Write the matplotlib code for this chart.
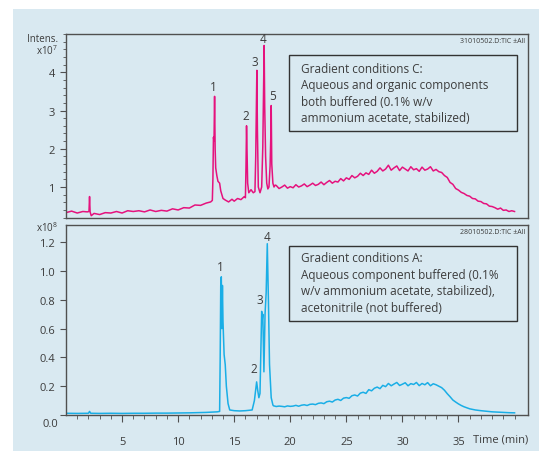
import matplotlib
matplotlib.use("Agg")
import matplotlib.pyplot as plt
from matplotlib.patches import Rectangle
from matplotlib.ticker import MultipleLocator, FixedLocator

plt.rcParams["font.family"] = ["Open Sans", "DejaVu Sans"]
plt.rcParams["mathtext.default"] = "regular"

# Gradient conditions C (x10^7)
time_c = [0.0, 0.5, 1.0, 1.5, 1.9, 2.05, 2.1, 2.15, 2.25, 2.5, 3.0, 3.5, 4.0, 4.5,
          5.0, 5.5, 6.0, 6.5, 7.0, 7.5, 8.0, 8.5, 9.0, 9.5, 10.0, 10.5, 11.0, 11.5,
          12.0, 12.5, 12.9, 13.05,
          13.1, 13.15, 13.2, 13.25, 13.3, 13.35, 13.45, 13.55, 13.7, 13.8, 14.0,
          14.2, 14.5, 14.8, 15.0, 15.3, 15.6, 15.9, 16.0,
          16.05, 16.1, 16.15, 16.2, 16.3, 16.5, 16.7, 16.85,
          16.92, 16.97, 17.02, 17.07, 17.15, 17.3,
          17.45, 17.55, 17.62, 17.67, 17.72, 17.8, 17.9, 18.0,
          18.1, 18.2, 18.27, 18.3, 18.35, 18.45, 18.55, 18.65,
          18.75, 19.0, 19.25, 19.5, 19.75, 20.0, 20.25, 20.5, 20.75, 21.0, 21.25,
          21.5, 21.75, 22.0, 22.25, 22.5, 22.75, 23.0, 23.25, 23.5, 23.75, 24.0,
          24.25, 24.5, 24.75, 25.0, 25.25, 25.5, 25.75, 26.0, 26.25, 26.5, 26.75,
          27.0, 27.25, 27.5, 27.75, 28.0, 28.25, 28.5, 28.75, 29.0, 29.25, 29.5,
          29.75, 30.0, 30.25, 30.5, 30.75, 31.0, 31.25, 31.5, 31.75, 32.0, 32.25,
          32.5, 32.75, 33.0, 33.25, 33.5, 33.75, 34.0, 34.25, 34.5, 34.75, 35.0,
          35.25, 35.5, 35.75, 36.0, 36.25, 36.5, 36.75, 37.0, 37.25, 37.5, 37.75,
          38.0, 38.25, 38.5, 38.75, 39.0, 39.25, 39.5, 39.75, 40.0]
intens_c = [0.33, 0.37, 0.32, 0.36, 0.35, 0.36, 0.75, 0.35, 0.25, 0.31, 0.28, 0.33, 0.32, 0.36,
            0.32, 0.38, 0.36, 0.38, 0.35, 0.4, 0.36, 0.39, 0.37, 0.43, 0.4, 0.46, 0.45, 0.53,
            0.52, 0.58, 0.61, 0.65,
            1.2, 2.3, 2.2, 3.37, 2.0, 1.5, 1.3, 1.15, 1.1, 0.9, 0.7,
            0.66, 0.61, 0.68, 0.63, 0.7, 0.67, 0.75, 0.72,
            1.5, 2.6, 1.8, 1.1, 0.85, 0.93, 0.85, 0.88,
            1.8, 2.95, 4.05, 2.5, 1.0, 0.85,
            1.0, 2.05, 3.5, 4.7, 3.1, 1.8, 1.1, 0.95,
            1.0, 1.55, 2.4, 3.13, 1.6, 1.1, 1.0, 1.05,
            1.04, 0.96, 1.0, 1.05, 0.97, 1.01, 0.98, 1.06, 1.0, 1.03, 1.08,
            1.01, 1.05, 1.1, 1.04, 1.07, 1.13, 1.06, 1.12, 1.17, 1.1, 1.15,
            1.13, 1.22, 1.16, 1.24, 1.2, 1.3, 1.24, 1.28, 1.36, 1.3, 1.37,
            1.33, 1.44, 1.36, 1.41, 1.5, 1.42, 1.47, 1.57, 1.44, 1.5, 1.55,
            1.43, 1.52, 1.47, 1.42, 1.53, 1.45, 1.48, 1.41, 1.52, 1.44, 1.47,
            1.53, 1.42, 1.46, 1.4, 1.38, 1.3, 1.25, 1.12, 1.07, 0.96, 0.92,
            0.86, 0.83, 0.78, 0.76, 0.7, 0.69, 0.63, 0.62, 0.57, 0.56, 0.5,
            0.49, 0.46, 0.42, 0.45, 0.39, 0.4, 0.36, 0.38, 0.36]

# Gradient conditions A (x10^8)
time_a = [0.0, 1.0, 2.0, 2.1, 2.2, 3.0, 4.0, 5.0, 6.0, 7.0, 8.0, 9.0, 10.0, 11.0, 12.0,
          12.5, 13.0, 13.5, 13.7,
          13.75, 13.8, 13.85, 13.9, 13.95, 14.0, 14.1, 14.2, 14.3, 14.45, 14.6,
          15.0, 15.5, 16.0, 16.6, 16.8, 16.95, 17.0, 17.1, 17.2, 17.3,
          17.4, 17.45, 17.5, 17.55, 17.65, 17.75, 17.85, 17.95, 18.05, 18.15,
          18.3, 18.45,
          18.5, 18.75, 19.0, 19.25, 19.5, 19.75, 20.0, 20.25, 20.5, 20.75, 21.0,
          21.25, 21.5, 21.75, 22.0, 22.25, 22.5, 22.75, 23.0, 23.25, 23.5, 23.75,
          24.0, 24.25, 24.5, 24.75, 25.0, 25.25, 25.5, 25.75, 26.0, 26.25, 26.5,
          26.75, 27.0, 27.25, 27.5, 27.75, 28.0, 28.25, 28.5, 28.75, 29.0, 29.25,
          29.5, 29.75, 30.0, 30.25, 30.5, 30.75, 31.0, 31.25, 31.5, 31.75, 32.0,
          32.25, 32.5, 32.75, 33.0, 33.25, 33.5, 33.75, 34.0, 34.25, 34.5, 34.75,
          35.0, 35.25, 35.5, 35.75, 36.0, 36.5, 37.0, 37.5, 38.0, 38.5, 39.0,
          39.5, 40.0]
intens_a = [0.012, 0.011, 0.012, 0.025, 0.012, 0.011, 0.012, 0.011, 0.012, 0.012, 0.013, 0.013,
            0.014, 0.015, 0.017, 0.018, 0.02, 0.022, 0.025,
            0.4, 0.9, 0.96, 0.6, 0.9, 0.65, 0.42, 0.35, 0.2, 0.08, 0.035,
            0.03, 0.028, 0.03, 0.035, 0.1, 0.2, 0.23, 0.17, 0.12, 0.15,
            0.55, 0.72, 0.66, 0.7, 0.3, 0.7, 0.85, 1.19, 0.8, 0.35,
            0.12, 0.07,
            0.064, 0.059, 0.062, 0.06, 0.057, 0.063, 0.06, 0.062, 0.067, 0.061, 0.068,
            0.071, 0.066, 0.074, 0.076, 0.072, 0.081, 0.084, 0.079, 0.092, 0.096, 0.09,
            0.104, 0.109, 0.101, 0.117, 0.121, 0.116, 0.134, 0.139, 0.132, 0.152, 0.158,
            0.15, 0.176, 0.168, 0.186, 0.194, 0.183, 0.206, 0.197, 0.219, 0.203, 0.215,
            0.226, 0.205, 0.214, 0.224, 0.203, 0.218, 0.212, 0.226, 0.204, 0.219, 0.21,
            0.225, 0.203, 0.217, 0.21, 0.2, 0.19, 0.172, 0.148, 0.127, 0.104, 0.09,
            0.077, 0.066, 0.057, 0.05, 0.043, 0.035, 0.03, 0.026, 0.022, 0.02, 0.018,
            0.016, 0.015]

# peak labels: (number, time, height)
peaks_c = [("1", 13.1, 3.62), ("2", 16.0, 2.88), ("3", 16.85, 4.28), ("4", 17.6, 4.87), ("5", 18.45, 3.38)]
peaks_a = [("1", 13.75, 1.03), ("2", 16.75, 0.32), ("3", 17.3, 0.8), ("4", 17.95, 1.24)]

text_c = "Gradient conditions C:\nAqueous and organic components\nboth buffered (0.1% w/v\nammonium acetate, stabilized)"
text_a = "Gradient conditions A:\nAqueous component buffered (0.1%\nw/v ammonium acetate, stabilized),\nacetonitrile (not buffered)"

bg = "#d9e9f1"
ink = "#3c3c3c"
spine = "#505050"

fig = plt.figure(figsize=(5.39, 4.52), dpi=100, facecolor="white")
fig.patches.append(Rectangle((13 / 539, 0), 1, 1 - 10 / 452, transform=fig.transFigure,
                             facecolor=bg, edgecolor="none", zorder=-10))

ax_c = fig.add_axes([66 / 539, 1 - 219 / 452, 462 / 539, 184 / 452])
ax_a = fig.add_axes([66 / 539, 1 - 416 / 452, 462 / 539, 190 / 452])

for ax in (ax_c, ax_a):
    ax.set_facecolor("none")
    for s in ax.spines.values():
        s.set_color(spine)
        s.set_linewidth(1.0)
    ax.set_xlim(0, 41.2)

ax_c.plot(time_c, intens_c, color="#e5127d", lw=1.1)
ax_c.set_ylim(0.19, 5.0)
ax_c.set_xticks([])
ax_c.yaxis.set_major_locator(FixedLocator([1, 2, 3, 4]))
ax_c.yaxis.set_minor_locator(MultipleLocator(0.2))
ax_c.tick_params(axis="y", which="major", direction="out", length=4, width=0.8,
                 color=spine, labelsize=8, labelcolor=ink, pad=4)
ax_c.tick_params(axis="y", which="minor", direction="out", length=2, width=0.6, color=spine)

ax_a.plot(time_a, intens_a, color="#1aaee6", lw=1.1)
ax_a.set_ylim(0, 1.32)
ax_a.set_yticks([0, 0.2, 0.4, 0.6, 0.8, 1.0, 1.2])
ax_a.set_yticklabels(["", "0.2", "0.4", "0.6", "0.8", "1.0", "1.2"])
ax_a.set_xticks([5, 10, 15, 20, 25, 30, 35])
ax_a.xaxis.set_minor_locator(FixedLocator(range(1, 41)))
ax_a.tick_params(axis="y", which="major", direction="out", length=4, width=0.8,
                 color=spine, labelsize=8, labelcolor=ink, pad=4)
ax_a.tick_params(axis="x", which="major", direction="out", length=5, width=0.8,
                 color=spine, labelsize=8, labelcolor=ink, pad=10)
ax_a.tick_params(axis="x", which="minor", direction="out", length=3, width=0.6, color=spine)
ax_a.annotate("0.0", xy=(0, 0), xycoords="axes fraction", xytext=(-8, -9),
              textcoords="offset pixels", ha="right", va="center", fontsize=8, color=ink)
ax_a.annotate("Time (min)", xy=(1, 0), xycoords="axes fraction", xytext=(0, -24),
              textcoords="offset pixels", ha="right", va="center", fontsize=8, color=ink)

ax_c.annotate("Intens.", xy=(0, 1), xycoords="axes fraction", xytext=(-8, -5),
              textcoords="offset pixels", ha="right", va="center", fontsize=7, color=ink)
ax_c.annotate("x10$^7$", xy=(0, 1), xycoords="axes fraction", xytext=(-8, -16),
              textcoords="offset pixels", ha="right", va="center", fontsize=7, color=ink)
ax_a.annotate("x10$^8$", xy=(0, 1), xycoords="axes fraction", xytext=(-8, -2),
              textcoords="offset pixels", ha="right", va="center", fontsize=7, color=ink)

for name, t, h in peaks_c:
    ax_c.text(t, h, name, ha="center", va="center", fontsize=8.5, color=ink)
for name, t, h in peaks_a:
    ax_a.text(t, h, name, ha="center", va="center", fontsize=8.5, color=ink)

ax_c.text(0.994, 0.962, "31010502.D:TIC \u00b1All", transform=ax_c.transAxes,
          ha="right", va="center", fontsize=5, color=ink)
ax_a.text(0.994, 0.967, "28010502.D:TIC \u00b1All", transform=ax_a.transAxes,
          ha="right", va="center", fontsize=5, color=ink)

ax_c.add_patch(Rectangle((0.483, 0.473), 0.493, 0.413, transform=ax_c.transAxes,
                         facecolor="none", edgecolor="#333333", lw=1.0))
ax_c.text(0.508, 0.680, text_c, transform=ax_c.transAxes, ha="left", va="center",
          fontsize=8.5, color=ink, linespacing=1.35)
ax_a.add_patch(Rectangle((0.483, 0.493), 0.493, 0.398, transform=ax_a.transAxes,
                         facecolor="none", edgecolor="#333333", lw=1.0))
ax_a.text(0.508, 0.698, text_a, transform=ax_a.transAxes, ha="left", va="center",
          fontsize=8.5, color=ink, linespacing=1.35)

fig.savefig("out.png", dpi=100, facecolor="white")
